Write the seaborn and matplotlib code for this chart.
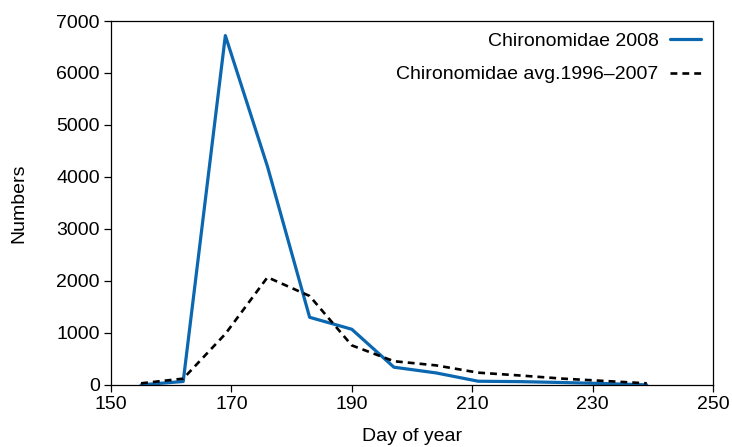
import matplotlib
matplotlib.use("Agg")
import matplotlib.pyplot as plt
import seaborn as sns
import pandas as pd

days = [155, 162, 169, 176, 183, 190, 197, 204, 211, 218, 225, 232, 239]
chiro_2008 = [0, 65, 6720, 4200, 1300, 1070, 340, 230, 70, 62, 45, 25, 0]
chiro_avg = [30, 120, 980, 2070, 1710, 760, 455, 375, 235, 180, 120, 75, 30]
label_2008 = "Chironomidae 2008"
label_avg = "Chironomidae avg.1996\u20132007"
x_ticks = [150, 170, 190, 210, 230, 250]
y_ticks = [0, 1000, 2000, 3000, 4000, 5000, 6000, 7000]

sns.set_style("ticks")
plt.rcParams['font.family'] = ['Liberation Sans', 'DejaVu Sans']
plt.rcParams['text.color'] = 'black'
plt.rcParams['axes.labelcolor'] = 'black'
plt.rcParams['xtick.color'] = 'black'
plt.rcParams['ytick.color'] = 'black'
plt.rcParams['axes.edgecolor'] = 'black'

df = pd.DataFrame({"day": days, "y2008": chiro_2008, "avg": chiro_avg})

fig = plt.figure(figsize=(7.32, 4.47), dpi=100)
ax = fig.add_axes([0.1516, 0.139, 0.8224, 0.814])

sns.lineplot(data=df, x="day", y="y2008", ax=ax, color="#0a67b0", lw=2.3,
             label=label_2008)
sns.lineplot(data=df, x="day", y="avg", ax=ax, color="black", lw=1.9,
             linestyle=(0, (2.6, 1.9)), label=label_avg)

ax.set_xlim(150, 250)
ax.set_ylim(0, 7000)
ax.set_xticks(x_ticks)
ax.set_yticks(y_ticks)
ax.tick_params(labelsize=14, length=5, width=0.9, direction="out", pad=3)
ax.set_xlabel("Day of year", fontsize=14, labelpad=11)
ax.set_ylabel("Numbers", fontsize=14, labelpad=21)
for s in ax.spines.values():
    s.set_visible(True)
    s.set_linewidth(0.9)

ax.legend(loc="upper right", frameon=False, markerfirst=False, fontsize=14,
          handlelength=1.6, handletextpad=0.6, borderaxespad=0.2,
          labelspacing=0.8)

fig.savefig("out.png", dpi=100)
